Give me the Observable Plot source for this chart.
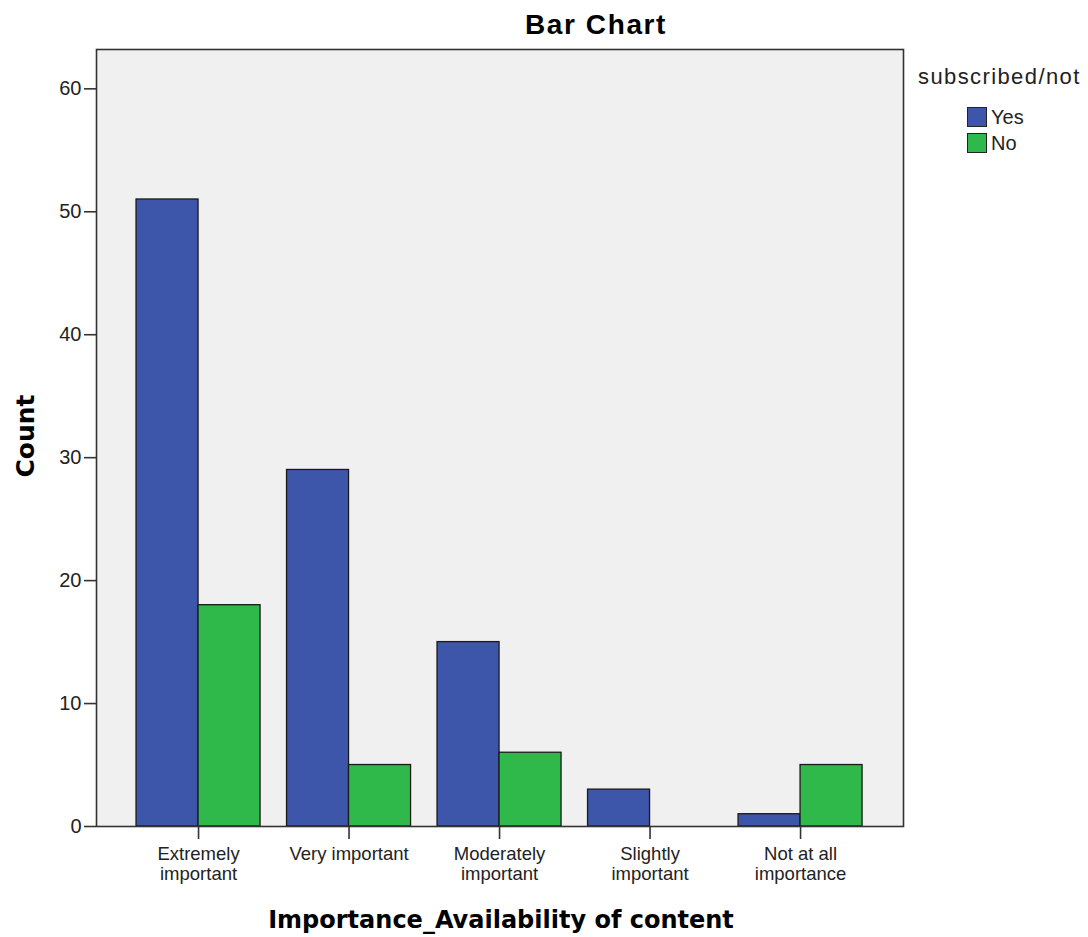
<!DOCTYPE html>
<html>
<head>
<meta charset="utf-8">
<script src="https://cdn.jsdelivr.net/npm/d3@7"></script>
<script src="https://cdn.jsdelivr.net/npm/@observablehq/plot@0.6"></script>
<style>
  html, body { margin: 0; padding: 0; background: #fff; }
  #wrap { position: relative; width: 1088px; height: 937px; overflow: hidden; }
  #chart { position: absolute; left: 0; top: 0; }
  .title { position: absolute; left: 596px; top: 9px; transform: translateX(-50%);
    font-family: "Liberation Sans", Arial, sans-serif; font-weight: bold; font-size: 28px; letter-spacing: 1.6px; color: #000; white-space: nowrap; }
  .xtitle { position: absolute; left: 501px; top: 906px; transform: translateX(-50%);
    font-family: "DejaVu Sans", Verdana, sans-serif; font-weight: bold; font-size: 24px; color: #000; white-space: nowrap; }
  .ytitle { position: absolute; left: 25px; top: 436px; transform: translate(-50%, -50%) rotate(-90deg);
    font-family: "DejaVu Sans", Verdana, sans-serif; font-weight: bold; font-size: 25px; color: #000; white-space: nowrap; }
  .legend { position: absolute; left: 918px; top: 64px; font-family: "Liberation Sans", Arial, sans-serif; color: #222; }
  .legend .lt { font-size: 22px; letter-spacing: 1.4px; white-space: nowrap; }
  .legend .item { position: relative; height: 26px; margin-left: 49px; font-size: 20px; white-space: nowrap; }
  .legend .sw { display: inline-block; width: 20px; height: 20px; border: 1px solid #222; box-sizing: border-box; vertical-align: -3px; margin-right: 4px; }
</style>
</head>
<body>
<div id="wrap">
  <div id="chart"></div>
  <div class="title">Bar Chart</div>
  <div class="ytitle">Count</div>
  <div class="xtitle">Importance_Availability of content</div>
  <div class="legend" id="legend"></div>
</div>
<script>
// ---- data ----
const categories = ["Extremely important", "Very important", "Moderately important", "Slightly important", "Not at all importance"];
const tickLabels = ["Extremely\nimportant", "Very important", "Moderately\nimportant", "Slightly\nimportant", "Not at all\nimportance"];
const seriesNames = ["Yes", "No"];
const yesCounts = [51, 29, 15, 3, 1];
const noCounts = [18, 5, 6, 0, 5];
const seriesColors = ["#3d56aa", "#2fb94a"];
const yTicks = [0, 10, 20, 30, 40, 50, 60];
const legendTitle = "subscribed/not";

// ---- build table ----
const rows = [];
categories.forEach((c, i) => {
  rows.push({cat: c, idx: i, series: "Yes", count: yesCounts[i]});
  rows.push({cat: c, idx: i, series: "No", count: noCounts[i]});
});
const half = 0.412; // half group width in category units
const bars = rows.filter(d => d.count > 0).map(d => ({
  ...d,
  x1: d.series === "Yes" ? d.idx - half : d.idx,
  x2: d.series === "Yes" ? d.idx : d.idx + half
}));

const chart = Plot.plot({
  width: 1088,
  height: 937,
  marginLeft: 96,
  marginRight: 185,
  marginTop: 49,
  marginBottom: 111,
  style: {fontFamily: "'Liberation Sans', Arial, sans-serif", fontSize: "20px", color: "#222", background: "transparent"},
  x: {type: "linear", domain: [-0.678, 4.684]},
  y: {domain: [0, 63.2]},
  color: {domain: seriesNames, range: seriesColors},
  marks: [
    Plot.frame({fill: "#f0f0f0", stroke: null}),
    Plot.rect(bars, {x1: "x1", x2: "x2", y1: 0, y2: "count", fill: "series", stroke: "#1a1a1a", strokeWidth: 1.3}),
    Plot.frame({stroke: "#333", strokeWidth: 1.6}),
    Plot.axisY({ticks: yTicks, tickSize: 12, tickPadding: 3, tickFormat: d => String(d), stroke: "#333", strokeWidth: 1.6, strokeOpacity: 1, fontSize: 20, label: null}),
    Plot.axisX({ticks: [0, 1, 2, 3, 4], tickSize: 13, tickPadding: 7, tickFormat: i => tickLabels[i], stroke: "#333", strokeWidth: 1.6, strokeOpacity: 1, fontSize: 18.5, lineHeight: 1.05, label: null})
  ]
});
document.getElementById("chart").appendChild(chart);

// legend
const lg = document.getElementById("legend");
const t = document.createElement("div");
t.className = "lt"; t.textContent = legendTitle; lg.appendChild(t);
const sp = document.createElement("div"); sp.style.height = "16px"; lg.appendChild(sp);
seriesNames.forEach((s, i) => {
  const it = document.createElement("div"); it.className = "item";
  const sw = document.createElement("span"); sw.className = "sw"; sw.style.background = seriesColors[i];
  it.appendChild(sw); it.appendChild(document.createTextNode(s));
  lg.appendChild(it);
});
</script>
</body>
</html>
